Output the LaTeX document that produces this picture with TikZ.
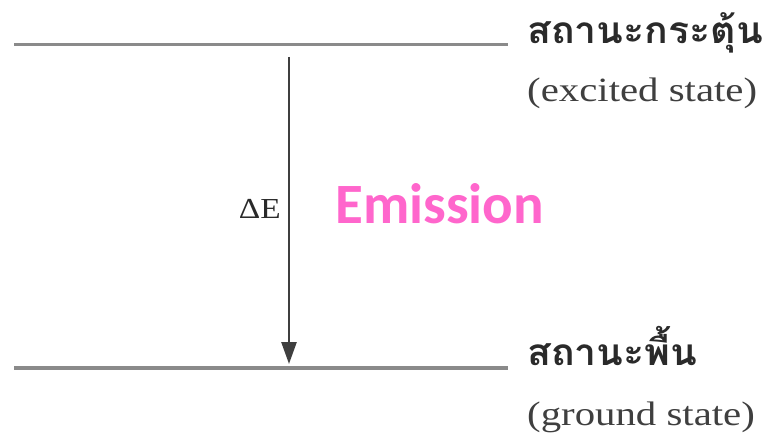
\documentclass[tikz,border=0pt]{standalone}
\usepackage{fontspec}
\setmainfont{Liberation Serif}
\newfontfamily\thaifont[Script=Thai]{Loma}
\newfontfamily\emfont{Carlito}
\usetikzlibrary{arrows.meta}
\definecolor{lvl}{HTML}{8A8A8A}
\definecolor{txt}{HTML}{2A2A2A}
\definecolor{pinkem}{HTML}{FF66CC}
\tikzset{
  level/.style={draw=lvl, line width=3.5pt},
  trans/.style={draw=txt!90, line width=2.6pt, -{Triangle[width=15pt,length=22pt]}},
  thai/.style={anchor=base west, inner sep=0pt, text=txt, font=\thaifont\bfseries\fontsize{37}{40}\selectfont},
  eng/.style={anchor=base west, inner sep=0pt, text=txt!90, font=\fontsize{34}{38}\selectfont},
}
\begin{document}
\begin{tikzpicture}[x=1pt,y=-1pt]
\useasboundingbox (0,0) rectangle (782,436);
\coordinate (t1) at (14,44.5);
\coordinate (t2) at (508,44.5);
\coordinate (b1) at (14,368);
\coordinate (b2) at (508,368);
\draw[level] (t1) -- (t2);
\draw[level] (b1) -- (b2);
\coordinate (as) at (289,57);
\coordinate (ae) at (289,364);
\draw[trans] (as) -- (ae);
\node[anchor=base east, inner sep=0pt, text=txt, font=\fontsize{29}{34}\selectfont] (de) at (281,218) {\scalebox{1.15}[1]{ΔE}};
\node[anchor=base west, inner sep=0pt, text=pinkem, font=\emfont\bfseries\fontsize{57}{62}\selectfont] (em) at (335,223) {Emission};
\node[thai] (ex) at (527,44) {\scalebox{1.06}[1]{สถานะกระตุ้น}};
\node[eng] (exe) at (527,101) {\scalebox{1.2}[1]{(excited state)}};
\node[thai] (gr) at (527,365) {\scalebox{1.06}[1]{สถานะพื้น}};
\node[eng] (gre) at (527,425) {\scalebox{1.2}[1]{(ground state)}};
\end{tikzpicture}
\end{document}
